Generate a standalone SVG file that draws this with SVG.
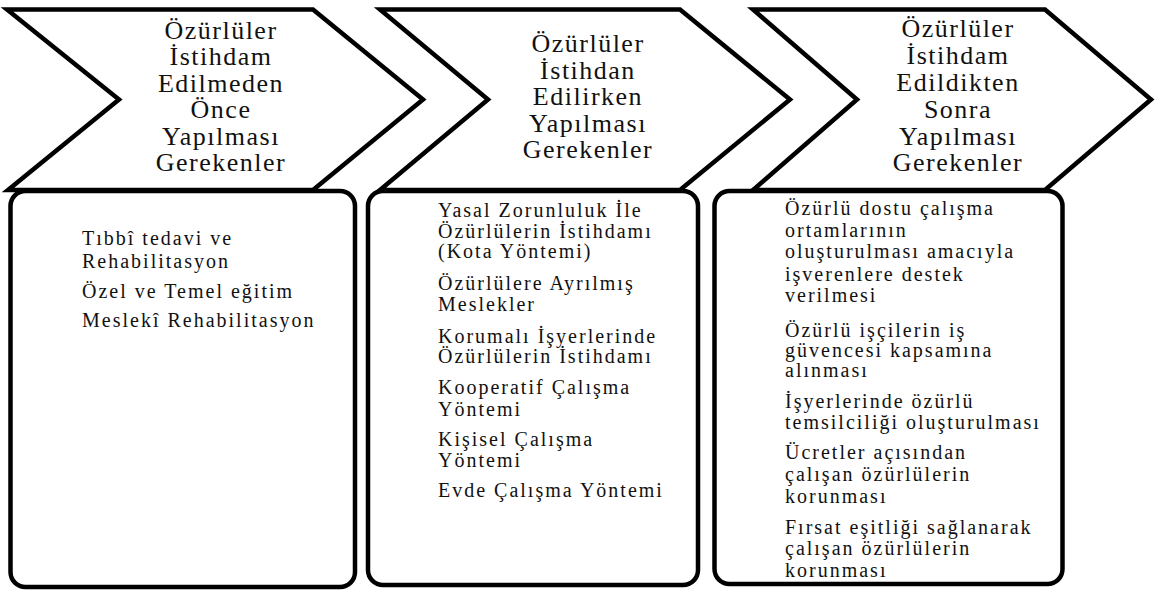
<svg xmlns="http://www.w3.org/2000/svg" width="1155" height="590" viewBox="0 0 1155 590">
<rect x="0" y="0" width="1155" height="590" fill="#fff"/>
<g id="box1">
<rect fill="#fff" stroke="#000" stroke-width="4.5" x="10.5" y="191" width="344.5" height="396" rx="15"/>
<text style="font-family:'Liberation Serif',serif;font-size:20px;letter-spacing:2px" fill="#111" x="82" y="245">Tıbbî tedavi ve</text>
<text style="font-family:'Liberation Serif',serif;font-size:20px;letter-spacing:2px" fill="#111" x="82" y="268">Rehabilitasyon</text>
<text style="font-family:'Liberation Serif',serif;font-size:20px;letter-spacing:2px" fill="#111" x="82" y="298">Özel ve Temel eğitim</text>
<text style="font-family:'Liberation Serif',serif;font-size:20px;letter-spacing:2px" fill="#111" x="82" y="327">Meslekî  Rehabilitasyon</text>
</g>
<g id="box2">
<rect fill="#fff" stroke="#000" stroke-width="4.5" x="368" y="191" width="330" height="394" rx="15"/>
<text style="font-family:'Liberation Serif',serif;font-size:20px;letter-spacing:2px" fill="#111" x="438" y="216.5">Yasal Zorunluluk İle</text>
<text style="font-family:'Liberation Serif',serif;font-size:20px;letter-spacing:2px" fill="#111" x="438" y="237.5">Özürlülerin İstihdamı</text>
<text style="font-family:'Liberation Serif',serif;font-size:20px;letter-spacing:2px" fill="#111" x="438" y="258">(Kota Yöntemi)</text>
<text style="font-family:'Liberation Serif',serif;font-size:20px;letter-spacing:2px" fill="#111" x="438" y="290">Özürlülere Ayrılmış</text>
<text style="font-family:'Liberation Serif',serif;font-size:20px;letter-spacing:2px" fill="#111" x="438" y="311">Meslekler</text>
<text style="font-family:'Liberation Serif',serif;font-size:20px;letter-spacing:2px" fill="#111" x="438" y="342.5">Korumalı İşyerlerinde</text>
<text style="font-family:'Liberation Serif',serif;font-size:20px;letter-spacing:2px" fill="#111" x="438" y="363">Özürlülerin İstihdamı</text>
<text style="font-family:'Liberation Serif',serif;font-size:20px;letter-spacing:2px" fill="#111" x="438" y="394">Kooperatif Çalışma</text>
<text style="font-family:'Liberation Serif',serif;font-size:20px;letter-spacing:2px" fill="#111" x="438" y="416">Yöntemi</text>
<text style="font-family:'Liberation Serif',serif;font-size:20px;letter-spacing:2px" fill="#111" x="438" y="446">Kişisel Çalışma</text>
<text style="font-family:'Liberation Serif',serif;font-size:20px;letter-spacing:2px" fill="#111" x="438" y="467">Yöntemi</text>
<text style="font-family:'Liberation Serif',serif;font-size:20px;letter-spacing:2px" fill="#111" x="438" y="497">Evde Çalışma Yöntemi</text>
</g>
<g id="box3">
<rect fill="#fff" stroke="#000" stroke-width="4.5" x="714.5" y="191" width="348" height="393" rx="15"/>
<text style="font-family:'Liberation Serif',serif;font-size:20px;letter-spacing:2px" fill="#111" x="785" y="215">Özürlü dostu çalışma</text>
<text style="font-family:'Liberation Serif',serif;font-size:20px;letter-spacing:2px" fill="#111" x="785" y="236.7">ortamlarının</text>
<text style="font-family:'Liberation Serif',serif;font-size:20px;letter-spacing:2px" fill="#111" x="785" y="258.3">oluşturulması amacıyla</text>
<text style="font-family:'Liberation Serif',serif;font-size:20px;letter-spacing:2px" fill="#111" x="785" y="280.5">işverenlere destek</text>
<text style="font-family:'Liberation Serif',serif;font-size:20px;letter-spacing:2px" fill="#111" x="785" y="301.7">verilmesi</text>
<text style="font-family:'Liberation Serif',serif;font-size:20px;letter-spacing:2px" fill="#111" x="785" y="336.7">Özürlü işçilerin iş</text>
<text style="font-family:'Liberation Serif',serif;font-size:20px;letter-spacing:2px" fill="#111" x="785" y="356.7">güvencesi kapsamına</text>
<text style="font-family:'Liberation Serif',serif;font-size:20px;letter-spacing:2px" fill="#111" x="785" y="377">alınması</text>
<text style="font-family:'Liberation Serif',serif;font-size:20px;letter-spacing:2px" fill="#111" x="785" y="408.3">İşyerlerinde özürlü</text>
<text style="font-family:'Liberation Serif',serif;font-size:20px;letter-spacing:2px" fill="#111" x="785" y="429.3">temsilciliği oluşturulması</text>
<text style="font-family:'Liberation Serif',serif;font-size:20px;letter-spacing:2px" fill="#111" x="785" y="459.3">Ücretler açısından</text>
<text style="font-family:'Liberation Serif',serif;font-size:20px;letter-spacing:2px" fill="#111" x="785" y="480.5">çalışan özürlülerin</text>
<text style="font-family:'Liberation Serif',serif;font-size:20px;letter-spacing:2px" fill="#111" x="785" y="502.5">korunması</text>
<text style="font-family:'Liberation Serif',serif;font-size:20px;letter-spacing:2px" fill="#111" x="785" y="534">Fırsat eşitliği sağlanarak</text>
<text style="font-family:'Liberation Serif',serif;font-size:20px;letter-spacing:2px" fill="#111" x="785" y="555">çalışan özürlülerin</text>
<text style="font-family:'Liberation Serif',serif;font-size:20px;letter-spacing:2px" fill="#111" x="785" y="576.5">korunması</text>
</g>
<g id="chevron1">
<polygon fill="#fff" stroke="#000" stroke-width="4.5" points="7,9.5 313,9.5 423,99.5 313,190 8,190 119,99.5"/>
<text style="font-family:'Liberation Serif',serif;font-size:26px;letter-spacing:1.5px" text-anchor="middle" fill="#111" x="221" y="38.5">Özürlüler</text>
<text style="font-family:'Liberation Serif',serif;font-size:26px;letter-spacing:1.5px" text-anchor="middle" fill="#111" x="221" y="65">İstihdam</text>
<text style="font-family:'Liberation Serif',serif;font-size:26px;letter-spacing:1.5px" text-anchor="middle" fill="#111" x="221" y="91.5">Edilmeden</text>
<text style="font-family:'Liberation Serif',serif;font-size:26px;letter-spacing:1.5px" text-anchor="middle" fill="#111" x="221" y="118">Önce</text>
<text style="font-family:'Liberation Serif',serif;font-size:26px;letter-spacing:1.5px" text-anchor="middle" fill="#111" x="221" y="144.5">Yapılması</text>
<text style="font-family:'Liberation Serif',serif;font-size:26px;letter-spacing:1.5px" text-anchor="middle" fill="#111" x="221" y="171">Gerekenler</text>
</g>
<g id="chevron2">
<polygon fill="#fff" stroke="#000" stroke-width="4.5" points="380,9.5 680,9.5 790,99.5 680,190 380,190 488,99.5"/>
<text style="font-family:'Liberation Serif',serif;font-size:26px;letter-spacing:1.5px" text-anchor="middle" fill="#111" x="588" y="52">Özürlüler</text>
<text style="font-family:'Liberation Serif',serif;font-size:26px;letter-spacing:1.5px" text-anchor="middle" fill="#111" x="588" y="78.5">İstihdan</text>
<text style="font-family:'Liberation Serif',serif;font-size:26px;letter-spacing:1.5px" text-anchor="middle" fill="#111" x="588" y="105">Edilirken</text>
<text style="font-family:'Liberation Serif',serif;font-size:26px;letter-spacing:1.5px" text-anchor="middle" fill="#111" x="588" y="131.5">Yapılması</text>
<text style="font-family:'Liberation Serif',serif;font-size:26px;letter-spacing:1.5px" text-anchor="middle" fill="#111" x="588" y="158">Gerekenler</text>
</g>
<g id="chevron3">
<polygon fill="#fff" stroke="#000" stroke-width="4.5" points="753,9.5 1045,9.5 1151,99.5 1045,190 753,190 857,99.5"/>
<text style="font-family:'Liberation Serif',serif;font-size:26px;letter-spacing:1.5px" text-anchor="middle" fill="#111" x="958" y="37">Özürlüler</text>
<text style="font-family:'Liberation Serif',serif;font-size:26px;letter-spacing:1.5px" text-anchor="middle" fill="#111" x="958" y="64">İstihdam</text>
<text style="font-family:'Liberation Serif',serif;font-size:26px;letter-spacing:1.5px" text-anchor="middle" fill="#111" x="958" y="91">Edildikten</text>
<text style="font-family:'Liberation Serif',serif;font-size:26px;letter-spacing:1.5px" text-anchor="middle" fill="#111" x="958" y="118">Sonra</text>
<text style="font-family:'Liberation Serif',serif;font-size:26px;letter-spacing:1.5px" text-anchor="middle" fill="#111" x="958" y="144.5">Yapılması</text>
<text style="font-family:'Liberation Serif',serif;font-size:26px;letter-spacing:1.5px" text-anchor="middle" fill="#111" x="958" y="171">Gerekenler</text>
</g>
<g id="connectors"/>
</svg>
